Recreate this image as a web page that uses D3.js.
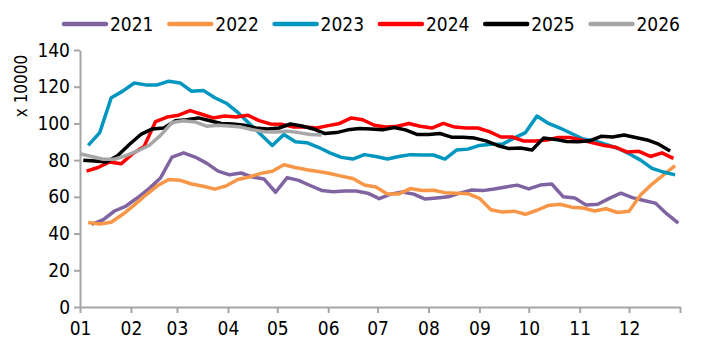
<!DOCTYPE html>
<html>
<head>
<meta charset="utf-8">
<script src="https://cdn.jsdelivr.net/npm/d3@7"></script>
<style>
body{margin:0;background:#fff}
svg text{font-family:"Liberation Sans Narrow","DejaVu Sans Condensed",sans-serif;fill:#000}
</style>
</head>
<body>
<main></main>
<script>
const years=['2021','2022','2023','2024','2025','2026']
// first weekly observation of each year (month-day), then one value per week
const firstWeek=['01-08','01-06','01-06','01-05','01-03','01-01']

const v2021=[45,47.5,52.3,55,59.5,64.5,70.3,81.7,84,81.7,78.4,74,72,73,70.8,69.7,62.5,70.5,69,66.2,63.5,62.8,63.2,63.2,62,59,61.5,62.6,61.5,58.8,59.4,60,62,63.7,63.4,64.3,65.4,66.4,64.3,66.4,67,60,59.4,55.5,56,59.2,62,59.6,58,56.6,50.7,45.7]
const v2022=[46,45.2,46.2,50.5,55.5,61,66,69.5,69,67,65.8,64.2,66,69.5,70.8,72.8,74,77.5,76,74.8,73.8,72.7,71.3,70,66.5,65.4,61.5,61.6,64.5,63.5,63.6,62.3,62,61.7,59.2,53,51.7,52.2,50.5,52.7,55.3,56,54.4,53.9,52.3,53.5,51.5,52.2,61,67,72,77]
const v2023=[88,95,114,117.6,122,121,121,123,122,117.5,118,114,111,106,100,94,88,94,90,89.5,87,84,81.5,80.6,83,82,80.6,82,83,82.8,82.8,80.6,85.5,86,88,88.7,88.7,92,95,104,100,97.5,94.5,91.5,90.5,88.5,86.5,83.5,80,75.5,73.5,72]
const v2024=[74,76,79,78,83.5,87.5,101,103.5,104.5,107,105,103,104,103.5,104.5,101.5,99.7,99.5,98,98,97.5,98.8,100,103,102,99,98,98.5,100,98.5,97.5,100,98,97.5,97.5,95.5,92.6,92.6,90.4,90.4,91,92.3,92.3,91,89.4,88,87,84.4,84.8,82,84,81]
const v2025=[80,79.5,79,82.5,88.5,94,97,97.5,101.5,102,103,101.5,100,99.7,99,97.5,97,97.5,99.7,98.6,97,94.5,95,96.5,97.2,97,96.5,97.8,96.5,94,94,94.5,92.5,92.5,92,90.5,88,86.3,86.6,85.5,92,91.3,90.2,90,90.5,93,92.6,93.7,92.3,91,88.7,85]
const v2026=[83.5,82,80.5,80.5,82.5,85,88,93.5,100.5,101.5,100.8,98.5,99,98.6,98,96.6,95.5,95.3,95.8,95,94,93.7]

const yTicks=[0,20,40,60,80,100,120,140]
const monthLabels=['01','02','03','04','05','06','07','08','09','10','11','12']

const seriesValues=[v2021,v2022,v2023,v2024,v2025,v2026]
const colors=['#8064A2','#F79646','#0096BF','#FF0000','#000000','#A6A6A6']

const sizeOfSVG={width:715,height:352}
const plot={left:80,right:680,top:50,bottom:307}
const refYear=2021
const parseDay=d3.timeParse('%Y-%m-%d')

const canvas=()=>{
    return d3.select('main')
            .append('svg')
            .attr('width',sizeOfSVG.width)
            .attr('height',sizeOfSVG.height)
}

const scales=()=>{
    const xScale=d3.scaleTime()
                    .domain([new Date(refYear,0,1),new Date(refYear+1,0,1)])
                    .range([plot.left,plot.right])
    const yScale=d3.scaleLinear()
                    .domain([0,140])
                    .range([plot.bottom,plot.top])
    return {xScale,yScale}
}

const buildSeries=()=>{
    return years.map((year,k)=>{
        const start=parseDay(`${refYear}-${firstWeek[k]}`)
        return {
            year,
            color:colors[k],
            points:seriesValues[k].map((v,i)=>({date:d3.timeDay.offset(start,i*7),value:v}))
        }
    })
}

const axes=(svg,sc)=>{
    const monthTicks=d3.timeMonth.range(new Date(refYear,0,1),new Date(refYear+1,0,2))
    const xAxis=svg.append('g')
        .attr('transform',`translate(0,${plot.bottom})`)
        .call(d3.axisBottom(sc.xScale)
            .tickValues(monthTicks)
            .tickFormat((d,i)=>monthLabels[i]||'')
            .tickSize(6)
            .tickSizeOuter(0)
            .tickPadding(9))
    const yAxis=svg.append('g')
        .attr('transform',`translate(${plot.left},0)`)
        .call(d3.axisLeft(sc.yScale)
            .tickValues(yTicks)
            .tickSize(6)
            .tickSizeOuter(0)
            .tickPadding(4))
    ;[xAxis,yAxis].forEach(g=>{
        g.attr('font-family',null).attr('font-size',null)
        g.select('.domain').attr('stroke','#A6A6A6').attr('stroke-width',2)
        g.selectAll('.tick line').attr('stroke','#A6A6A6').attr('stroke-width',2)
        g.selectAll('.tick text').style('font-size','19px')
    })
    svg.append('text')
        .attr('transform','translate(27,86) rotate(-90)')
        .attr('text-anchor','middle')
        .style('font-size','17px')
        .text('x 10000')
}

const lines=(svg,sc,series)=>{
    const line=d3.line()
        .x(d=>sc.xScale(d.date))
        .y(d=>sc.yScale(d.value))
    svg.append('g')
        .selectAll('path')
        .data(series)
        .join('path')
        .attr('fill','none')
        .attr('stroke',d=>d.color)
        .attr('stroke-width',3.5)
        .attr('stroke-linejoin','round')
        .attr('d',d=>line(d.points))
}

const legend=(svg,series)=>{
    const item=svg.append('g')
        .selectAll('g')
        .data(series)
        .join('g')
        .attr('transform',(d,i)=>`translate(${64+i*105.3},24)`)
    item.append('line')
        .attr('x1',0).attr('x2',42)
        .attr('stroke',d=>d.color)
        .attr('stroke-width',4.5)
        .attr('stroke-linecap','round')
    item.append('text')
        .attr('x',46)
        .attr('dy','0.36em')
        .style('font-size','19px')
        .text(d=>d.year)
}

const heartOfChart=()=>{
    const svg=canvas()
    const sc=scales()
    const series=buildSeries()
    axes(svg,sc)
    lines(svg,sc,series)
    legend(svg,series)
}
heartOfChart()
</script>
</body>
</html>
